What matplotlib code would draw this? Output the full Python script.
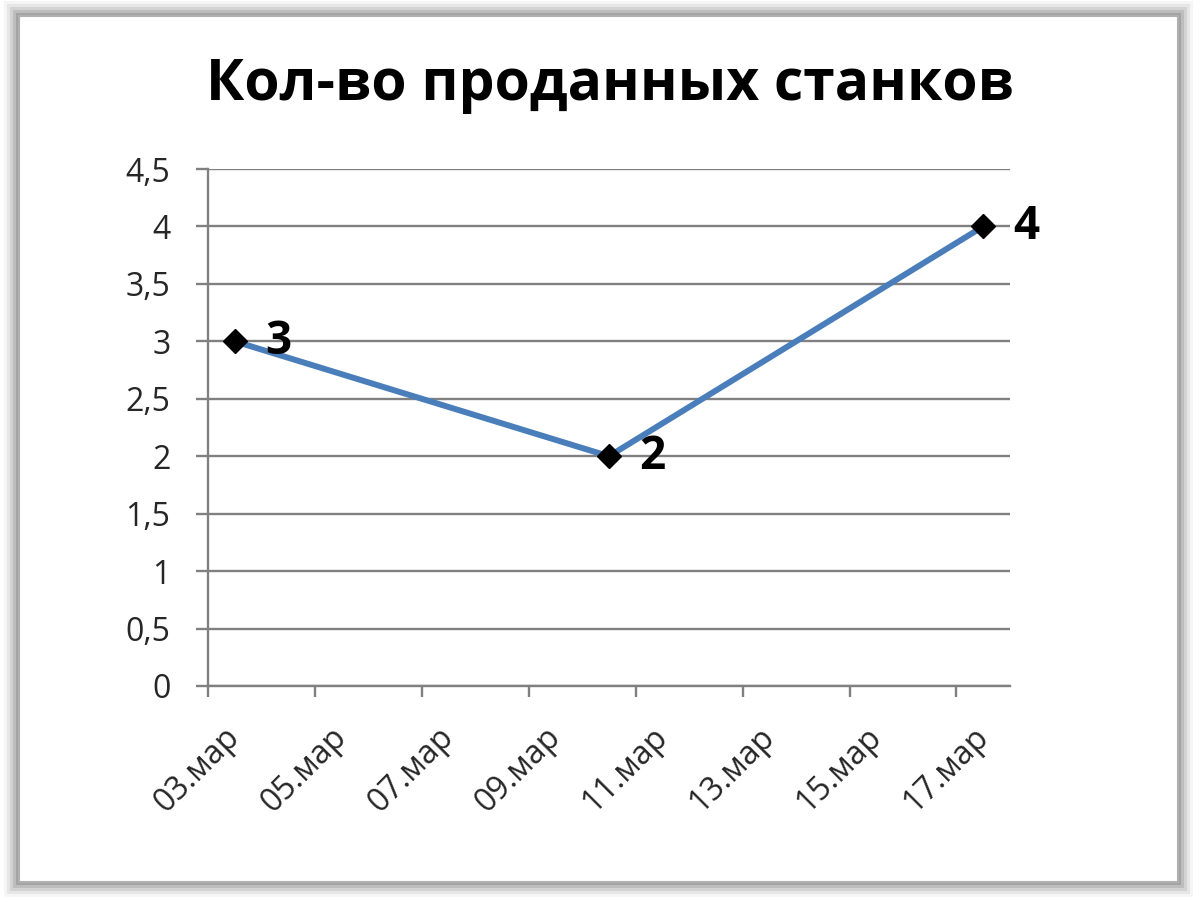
import matplotlib
matplotlib.use("Agg")
import matplotlib.pyplot as plt
import matplotlib.patches as mpatches
import numpy as np

plt.rcParams['font.family'] = ['Open Sans', 'DejaVu Sans']

# Данные
title = "Кол-во проданных станков"
days = [3, 10, 17]          # дни марта
sold = [3, 2, 4]
tick_days = [3, 5, 7, 9, 11, 13, 15, 17]
tick_labels = ["03.мар", "05.мар", "07.мар", "09.мар", "11.мар", "13.мар", "15.мар", "17.мар"]
y_ticks = [0, 0.5, 1, 1.5, 2, 2.5, 3, 3.5, 4, 4.5]

fig = plt.figure(figsize=(12, 9), dpi=100)
fig.patch.set_facecolor("white")

# рамка диаграммы с тенью
for i, a in enumerate([0.04, 0.06, 0.08, 0.10, 0.13]):
    d = (5 - i) * 0.0025
    fig.patches.append(mpatches.Rectangle((0.016 - d, 0.02 - d * 1.33), 0.966 + 2 * d, 0.962 + 2 * d * 1.33,
                                          transform=fig.transFigure, facecolor="black", alpha=a,
                                          edgecolor="none", zorder=0))
fig.patches.append(mpatches.Rectangle((0.016, 0.02), 0.966, 0.962, transform=fig.transFigure,
                                      facecolor="white", edgecolor="#b0b0b0", linewidth=1.5, zorder=1))

ax = fig.add_axes([0.1733, 0.2378, 0.6683, 0.5744])
ax.set_zorder(5)
ax.set_facecolor("none")

x = np.array(days) + 0.5   # точки по середине дня (как в Excel)
ax.plot(x, sold, color="#4a7ebb", linewidth=4.3, marker="D", markersize=12,
        markerfacecolor="black", markeredgecolor="black", zorder=3, solid_capstyle="round")
for xi, v in zip(x, sold):
    ax.annotate(str(v), (xi, v), xytext=(22, 0), textcoords="offset points",
                fontsize=33, fontweight="bold", va="center", ha="left", color="black")

ax.set_xlim(3, 18)
ax.set_ylim(0, 4.5)
ax.set_yticks(y_ticks)
ax.set_yticklabels([f"{v:g}".replace(".", ",") for v in y_ticks])
ax.set_xticks(tick_days)
ax.set_xticklabels([])
ax.set_xticks(np.array(tick_days) + 0.5, minor=True)
ax.set_xticklabels(tick_labels, minor=True, rotation=45, ha="right", va="center",
                   rotation_mode="anchor")

ax.grid(axis="y", color="#808080", linewidth=1.7)
ax.set_axisbelow(True)
for s in ["top", "right"]:
    ax.spines[s].set_visible(False)
for s in ["left", "bottom"]:
    ax.spines[s].set_color("#808080")
    ax.spines[s].set_linewidth(1.7)

ax.tick_params(axis="y", length=9, width=1.7, color="#808080", pad=18, labelsize=23, labelcolor="#262626")
ax.tick_params(axis="x", which="major", length=8, width=1.7, color="#808080")
ax.tick_params(axis="x", which="minor", length=0, pad=33, labelsize=23, labelcolor="#262626")

t = fig.text(0.508, 0.905, title, ha="center", va="center", fontsize=41, fontweight="bold", color="black")
t.set_zorder(6)

fig.savefig("out.png", dpi=100)
